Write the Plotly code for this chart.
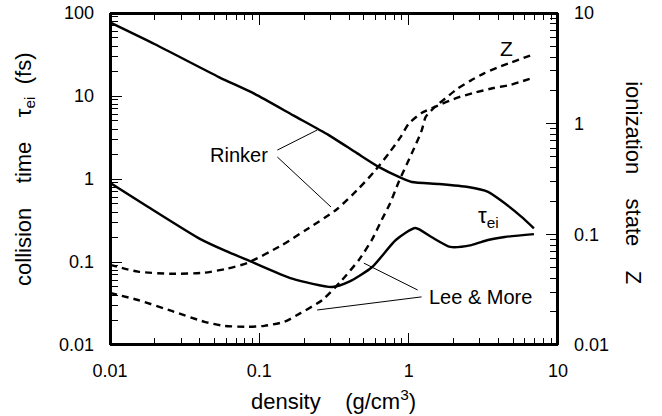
import math
import plotly.graph_objects as go

# ---- data ----
density_rinker_tau = [0.01, 0.02, 0.054, 0.093, 0.17, 0.29, 0.45, 0.63, 0.86, 1.05, 1.6, 2.5, 3.4, 4.4, 5.7, 6.9]
tau_rinker = [77, 42, 16.8, 10.6, 5.8, 3.4, 2.05, 1.4, 1.06, 0.92, 0.87, 0.80, 0.70, 0.51, 0.35, 0.255]

density_lm_tau = [0.01, 0.0177, 0.04, 0.06, 0.086, 0.166, 0.307, 0.40, 0.57, 0.82, 1.11, 1.42, 1.9, 2.63, 3.4, 4.4, 6.9]
tau_lm = [0.9, 0.47, 0.19, 0.135, 0.103, 0.063, 0.050, 0.058, 0.087, 0.184, 0.257, 0.2, 0.152, 0.16, 0.184, 0.2, 0.217]

density_rinker_z = [0.01, 0.0154, 0.0259, 0.043, 0.061, 0.083, 0.142, 0.206, 0.326, 0.464, 0.6, 0.737, 0.885, 1.0, 1.22, 1.5, 2.1, 2.7, 3.7, 4.8, 6.9]
z_rinker = [0.053, 0.046, 0.044, 0.045, 0.049, 0.055, 0.080, 0.11, 0.166, 0.26, 0.38, 0.54, 0.76, 1.0, 1.25, 1.42, 1.71, 1.89, 2.1, 2.24, 2.62]

density_lm_z = [0.01, 0.0154, 0.0259, 0.043, 0.058, 0.083, 0.108, 0.147, 0.19, 0.264, 0.358, 0.464, 0.567, 0.66, 0.75, 0.86, 1.05, 1.22, 1.3, 1.5, 1.75, 2.1, 2.6, 3.2, 3.9, 4.8, 6.9]
z_lm = [0.0295, 0.0255, 0.0203, 0.0162, 0.0149, 0.0146, 0.0149, 0.0162, 0.0195, 0.0255, 0.0387, 0.0587, 0.089, 0.135, 0.19, 0.30, 0.54, 0.86, 1.15, 1.42, 1.68, 2.05, 2.45, 2.85, 3.2, 3.55, 4.25]

x_decades = [0.01, 0.1, 1, 10]
x_labels = ["0.01", "0.1", "1", "10"]
yl_decades = [0.01, 0.1, 1, 10, 100]
yl_labels = ["0.01", "0.1", "1", "10", "100"]
yr_decades = [0.01, 0.1, 1, 10]
yr_labels = ["0.01", "0.1", "1", "10"]

NB = "\u00a0"


def all_ticks(decades, labels):
    vals, texts = [], []
    for d, lab in zip(decades, labels):
        vals.append(d)
        texts.append(lab)
        if d != decades[-1]:
            for m in range(2, 10):
                vals.append(m * d)
                texts.append("")
    return vals, texts


FONT = "Liberation Sans, Arial, sans-serif"
BLACK = "#000000"
CLEAR = "rgba(0,0,0,0)"

W, H = 662, 416
ML, MR, MT, MB = 110, 104, 13, 71
PW, PH = W - ML - MR, H - MT - MB
BORDER = 2  # frame thickness in px

fig = go.Figure()
solid = dict(color=BLACK, width=2.4, shape="spline", smoothing=0.6)
dashed = dict(color=BLACK, width=2.4, dash="7px,5px", shape="spline", smoothing=0.6)
fig.add_trace(go.Scatter(x=density_rinker_tau, y=tau_rinker, mode="lines", line=solid, name="Rinker tau"))
fig.add_trace(go.Scatter(x=density_lm_tau, y=tau_lm, mode="lines", line=solid, name="Lee & More tau"))
fig.add_trace(go.Scatter(x=density_rinker_z, y=z_rinker, mode="lines", line=dashed, yaxis="y2", name="Rinker Z"))
fig.add_trace(go.Scatter(x=density_lm_z, y=z_lm, mode="lines", line=dashed, yaxis="y2", name="Lee & More Z"))
# empty traces that only register the overlay axes carrying extra tick sets
for xa, ya in [("x2", "y"), ("x3", "y"), ("x4", "y"), ("x5", "y"), ("x", "y3"), ("x", "y4")]:
    fig.add_trace(go.Scatter(x=[], y=[], xaxis=xa, yaxis=ya, hoverinfo="skip"))

tickfont = dict(family=FONT, size=18, color=BLACK)
base = dict(type="log", tickwidth=1, tickcolor=BLACK, showgrid=False, showline=False,
            zeroline=False, tickfont=tickfont, tickmode="array")

xv, xt = all_ticks(x_decades, x_labels)
ylv, ylt = all_ticks(yl_decades, [t + NB * 3 for t in yl_labels])
yrv, yrt = all_ticks(yr_decades, [NB * 3 + t for t in yr_labels])

fig.update_layout(
    width=W, height=H,
    margin=dict(l=ML, r=MR, t=MT, b=MB, autoexpand=False),
    # black plot background + white inset panel = solid frame around the plot area
    plot_bgcolor=BLACK, paper_bgcolor="white",
    showlegend=False,
    xaxis=dict(range=[-2, 1], tickvals=x_decades, ticktext=x_labels, ticks="outside",
               tickcolor=CLEAR, ticklen=9, **{k: v for k, v in base.items() if k != "tickcolor"}),
    xaxis2=dict(range=[-2, 1], overlaying="x", anchor="y", side="bottom", ticks="inside",
                tickvals=xv, showticklabels=False, ticklen=7, **base),
    xaxis5=dict(range=[-2, 1], overlaying="x", anchor="y", side="bottom", ticks="inside",
                tickvals=x_decades, showticklabels=False, ticklen=12, **base),
    xaxis3=dict(range=[-2, 1], overlaying="x", anchor="y", side="top", ticks="inside",
                tickvals=xv, showticklabels=False, ticklen=7, **base),
    xaxis4=dict(range=[-2, 1], overlaying="x", anchor="y", side="top", ticks="inside",
                tickvals=x_decades, showticklabels=False, ticklen=12, **base),
    yaxis=dict(range=[-2, 2], side="left", ticks="inside", tickvals=ylv, ticktext=ylt, ticklen=8, **base),
    yaxis3=dict(range=[-2, 2], side="left", overlaying="y", anchor="x", ticks="inside",
                tickvals=yl_decades, showticklabels=False, ticklen=12, **base),
    yaxis2=dict(range=[-2, 1], side="right", overlaying="y", anchor="x", ticks="inside",
                tickvals=yrv, ticktext=yrt, ticklen=8, **base),
    yaxis4=dict(range=[-2, 1], side="right", overlaying="y", anchor="x", ticks="inside",
                tickvals=yr_decades, showticklabels=False, ticklen=12, **base),
)

lab = dict(family=FONT, size=20, color=BLACK)
ttl = dict(family=FONT, size=22, color=BLACK)
L = math.log10
annotations = [
    dict(text="Rinker", x=L(0.0736), y=L(1.95), xref="x", yref="y", showarrow=False, font=lab),
    dict(text="Lee &amp; More", x=0.48, y=-1.42, xref="x", yref="y", showarrow=False, font=lab),
    dict(text="Z", x=0.653, y=1.578, xref="x", yref="y", showarrow=False, font=dict(family=FONT, size=21, color=BLACK)),
    dict(text="τ<sub>ei</sub>", x=0.533, y=-0.458, xref="x", yref="y", showarrow=False, font=dict(family=FONT, size=22, color=BLACK)),
    dict(text=f"collision{NB*4}time{NB*4}τ<sub>ei</sub>{NB*2}(fs)", x=-0.19, y=0.53, xref="paper", yref="paper",
         textangle=-90, showarrow=False, font=ttl, xanchor="center", yanchor="middle"),
    dict(text=f"density{NB*4}(g/cm<sup>3</sup>)", x=0.498, y=-0.166, xref="paper", yref="paper",
         showarrow=False, font=ttl, xanchor="center", yanchor="middle"),
    dict(text=f"ionization{NB*4}state{NB*4}Z", x=1.17, y=0.49, xref="paper", yref="paper",
         textangle=90, showarrow=False, font=ttl, xanchor="center", yanchor="middle"),
]
fig.update_layout(annotations=annotations)

pointer = dict(color=BLACK, width=1)
frame = dict(color=BLACK, width=2)
bx, by = BORDER / PW, BORDER / PH
shapes = [
    # white panel inset inside the black plot background -> visible frame
    dict(type="rect", xref="paper", yref="paper", x0=bx, y0=by, x1=1 - bx, y1=1 - by,
         fillcolor="white", line=dict(width=0), layer="below"),
    # plot frame also as four edge lines
    dict(type="line", xref="paper", yref="paper", x0=0, y0=0, x1=1, y1=0, line=frame, layer="above"),
    dict(type="line", xref="paper", yref="paper", x0=0, y0=1, x1=1, y1=1, line=frame, layer="above"),
    dict(type="line", xref="paper", yref="paper", x0=0, y0=0, x1=0, y1=1, line=frame, layer="above"),
    dict(type="line", xref="paper", yref="paper", x0=1, y0=0, x1=1, y1=1, line=frame, layer="above"),
    dict(type="line", xref="x", yref="y", x0=0.132, y0=2.23, x1=0.244, y1=3.89, line=pointer),
    dict(type="line", xref="x", yref="y", x0=0.132, y0=1.84, x1=0.302, y1=0.46, line=pointer),
    dict(type="line", xref="x", yref="y", x0=0.501, y0=0.097, x1=1.148, y1=0.046, line=pointer),
    dict(type="line", xref="x", yref="y", x0=1.22, y0=0.038, x1=0.244, y1=0.0264, line=pointer),
]
fig.update_layout(shapes=shapes)

fig.write_html("out.html", config={"displayModeBar": False},
               post_script="document.body.style.margin='0px';")
